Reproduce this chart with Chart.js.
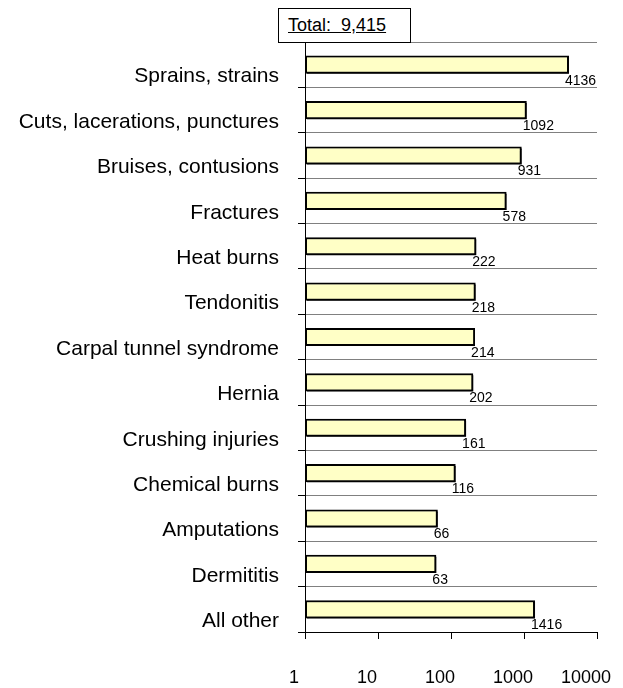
<!DOCTYPE html>
<html>
<head>
<meta charset="utf-8">
<script src="https://cdn.jsdelivr.net/npm/chart.js@4/dist/chart.umd.min.js"></script>
<style>
  html, body { margin: 0; padding: 0; background: #fff; }
  #wrap { position: relative; width: 623px; height: 688px; }
  #total {
    position: absolute; left: 278px; top: 8px; width: 131px; height: 33px;
    border: 1px solid #000; background: #fff; box-sizing: content-box;
    font-family: Arial, "Liberation Sans", sans-serif; font-size: 18px;
  }
  #total span { position: absolute; left: 9px; top: 6px; text-decoration: underline; white-space: pre; }
</style>
</head>
<body>
<div id="wrap">
  <canvas id="grafico" width="623" height="688"></canvas>
  <div id="total"><span>Total:  9,415</span></div>
</div>
<script>
  const categorias = ['Sprains, strains', 'Cuts, lacerations, punctures', 'Bruises, contusions', 'Fractures',
    'Heat burns', 'Tendonitis', 'Carpal tunnel syndrome', 'Hernia', 'Crushing injuries',
    'Chemical burns', 'Amputations', 'Dermititis', 'All other'];
  const casos = [4136, 1092, 931, 578, 222, 218, 214, 202, 161, 116, 66, 63, 1416];
  const ticksX = [1, 10, 100, 1000, 10000];

  const fonte = 'Arial, "Liberation Sans", sans-serif';

  // sombra nas barras
  const sombra = {
    id: 'sombra',
    beforeDatasetsDraw(chart) {
      const c = chart.ctx;
      c.save();
      c.shadowColor = 'rgba(0,0,0,0.85)';
      c.shadowOffsetX = 2;
      c.shadowOffsetY = 2;
      c.shadowBlur = 0;
    },
    afterDatasetsDraw(chart) {
      chart.ctx.restore();
    }
  };

  // rotulos abaixo do fim da barra
  const rotulos = {
    id: 'rotulos',
    afterDatasetsDraw(chart) {
      const c = chart.ctx;
      const meta = chart.getDatasetMeta(0);
      c.save();
      c.font = '14px ' + fonte;
      c.fillStyle = '#000';
      c.textAlign = 'left';
      c.textBaseline = 'top';
      meta.data.forEach((bar, i) => {
        const bottom = bar.y + bar.height / 2;
        c.fillText(String(casos[i]), bar.x - 4, bottom);
      });
      c.restore();
    }
  };

  const ctx = document.getElementById('grafico').getContext('2d');
  const chart = new Chart(ctx, {
    type: 'bar',
    data: {
      labels: categorias,
      datasets: [{
        data: casos,
        backgroundColor: '#FFFFC6',
        borderColor: '#000',
        borderWidth: 2,
        borderSkipped: false,
        barPercentage: 0.4,
        categoryPercentage: 1
      }]
    },
    options: {
      indexAxis: 'y',
      responsive: false,
      animation: false,
      layout: { padding: { top: 42, right: 26, left: 0, bottom: 0 } },
      scales: {
        x: {
          type: 'logarithmic',
          min: 1,
          max: 10000,
          afterBuildTicks: (scale) => { scale.ticks = ticksX.map(v => ({ value: v })); },
          afterFit: (scale) => {
            scale.height = 56;
            scale.paddingLeft = 0;
            scale.paddingRight = 0;
          },
          ticks: {
            color: '#000',
            font: { family: fonte, size: 18 },
            padding: 28,
            labelOffset: -11,
            maxRotation: 0,
            callback: (v) => String(v)
          },
          grid: { drawOnChartArea: false, drawTicks: true, tickLength: 7, color: '#000' },
          border: { display: true, color: '#000', width: 1 }
        },
        y: {
          afterFit: (scale) => { scale.width = 305; },
          ticks: {
            color: '#000',
            font: { family: fonte, size: 21 },
            padding: 19,
            labelOffset: 12
          },
          grid: { offset: true, color: '#808080', tickColor: '#000', tickLength: 7, lineWidth: 1 },
          border: { display: true, color: '#000', width: 1 }
        }
      },
      plugins: {
        legend: { display: false },
        tooltip: { enabled: false }
      }
    },
    plugins: [sombra, rotulos]
  });
</script>
</body>
</html>
